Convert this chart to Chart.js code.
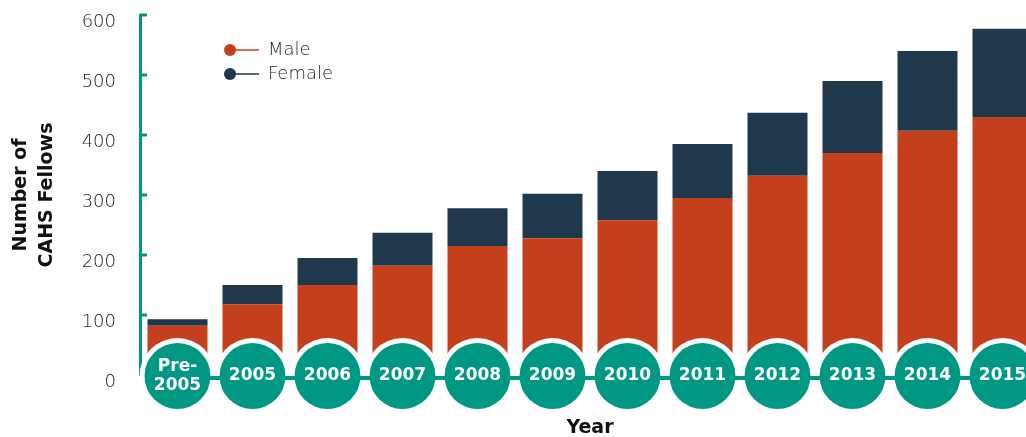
<!DOCTYPE html>
<html>
<head>
<meta charset="utf-8">
<script src="https://cdn.jsdelivr.net/npm/chart.js@4.4.1/dist/chart.umd.min.js"></script>
<style>
  html, body { margin: 0; padding: 0; background: #fff; overflow: hidden; }
  #wrap { position: relative; width: 1040px; height: 437px; }
</style>
</head>
<body>
<div id="wrap"><canvas id="chart"></canvas></div>
<script>
// data
const years = [['Pre-', '2005'], '2005', '2006', '2007', '2008', '2009', '2010', '2011', '2012', '2013', '2014', '2015'];
const male = [82, 118, 150, 182, 215, 228, 258, 295, 332, 370, 407, 430];
const female = [11, 32, 45, 55, 63, 74, 82, 90, 105, 120, 133, 147];
const yMin = 0, yMax = 600, yStep = 100;

const TEAL = '#009883';
const MALE = '#C4401D';
const FEMALE = '#1F384B';
const TEXT = '#1e1e1e';

// teal bubbles on the baseline with the year in them
const timeline = {
  id: 'timeline',
  afterDatasetsDraw(chart) {
    const { ctx, scales: { x, y } } = chart;
    const cy = y.getPixelForValue(0) + 1;
    ctx.save();
    years.forEach((lab, i) => {
      ctx.beginPath();
      ctx.arc(x.getPixelForValue(i), cy, 38, 0, Math.PI * 2);
      ctx.fillStyle = '#fff';
      ctx.fill();
    });
    // connector
    ctx.beginPath();
    ctx.moveTo(x.getPixelForValue(0), cy + 2);
    ctx.lineTo(x.getPixelForValue(years.length - 1) + 60, cy + 2);
    ctx.strokeStyle = TEAL;
    ctx.lineWidth = 4;
    ctx.stroke();
    years.forEach((lab, i) => {
      const cx = x.getPixelForValue(i);
      ctx.beginPath();
      ctx.arc(cx, cy, 33, 0, Math.PI * 2);
      ctx.fillStyle = TEAL;
      ctx.fill();
      ctx.fillStyle = '#fff';
      ctx.font = "bold 17px 'DejaVu Sans'";
      ctx.textAlign = 'center';
      ctx.textBaseline = 'middle';
      const lines = Array.isArray(lab) ? lab : [lab];
      lines.forEach((t, k) => {
        ctx.fillText(t, cx, cy + (k - (lines.length - 1) / 2) * 19.5);
      });
    });
    ctx.restore();
  }
};

// little inward tick marks on the y axis
const yTicks = {
  id: 'yTicks',
  beforeDatasetsDraw(chart) {
    const { ctx, chartArea, scales: { y } } = chart;
    ctx.save();
    ctx.strokeStyle = TEAL;
    ctx.lineWidth = 3;
    y.ticks.forEach(t => {
      const py = y.getPixelForValue(t.value);
      ctx.beginPath();
      ctx.moveTo(chartArea.left, py);
      ctx.lineTo(chartArea.left + 7, py);
      ctx.stroke();
    });
    ctx.restore();
  }
};

// dot-and-line legend
const dotLegend = {
  id: 'dotLegend',
  afterDraw(chart) {
    const { ctx } = chart;
    ctx.save();
    chart.data.datasets.forEach((ds, i) => {
      const ly = 50 + i * 24;
      ctx.strokeStyle = ds.backgroundColor;
      ctx.lineWidth = 1.5;
      ctx.beginPath();
      ctx.moveTo(230, ly);
      ctx.lineTo(259, ly);
      ctx.stroke();
      ctx.beginPath();
      ctx.arc(230, ly, 6, 0, Math.PI * 2);
      ctx.fillStyle = ds.backgroundColor;
      ctx.fill();
      ctx.fillStyle = TEXT;
      ctx.font = "200 18px 'DejaVu Sans'";
      ctx.textAlign = 'left';
      ctx.textBaseline = 'middle';
      ctx.fillText(ds.label, 268, ly);
    });
    ctx.restore();
  }
};

new Chart(document.getElementById('chart'), {
  type: 'bar',
  data: {
    labels: years,
    datasets: [
      { label: 'Male', data: male, backgroundColor: MALE },
      { label: 'Female', data: female, backgroundColor: FEMALE }
    ]
  },
  options: {
    responsive: true,
    maintainAspectRatio: false,
    animation: false,
    categoryPercentage: 1,
    barPercentage: 0.8,
    layout: { padding: { top: 15, left: 0, right: 0, bottom: 0 } },
    plugins: {
      legend: { display: false },
      tooltip: { enabled: false }
    },
    scales: {
      x: {
        stacked: true,
        grid: { display: false },
        border: { display: false },
        ticks: { display: false },
        title: {
          display: true,
          text: 'Year',
          color: '#111',
          font: { family: 'DejaVu Sans', size: 19, weight: 'bold', lineHeight: 1 },
          padding: { top: 0, bottom: -1 }
        },
        afterFit(s) { s.height = 62; }
      },
      y: {
        stacked: true,
        min: yMin,
        max: yMax,
        ticks: {
          stepSize: yStep,
          color: TEXT,
          padding: 16,
          labelOffset: 7,
          font: { family: 'DejaVu Sans', size: 18, weight: 200 }
        },
        grid: { display: false },
        border: { display: true, color: TEAL, width: 3 },
        title: {
          display: true,
          text: ['Number of', 'CAHS Fellows'],
          color: '#111',
          font: { family: 'DejaVu Sans', size: 19, weight: 'bold', lineHeight: '26px' },
          padding: { top: 8, bottom: 0 }
        },
        afterFit(s) {
          s.width = 140;
          s.paddingTop = 0;
          s.paddingBottom = 0;
        }
      }
    }
  },
  plugins: [yTicks, timeline, dotLegend]
});
</script>
</body>
</html>
